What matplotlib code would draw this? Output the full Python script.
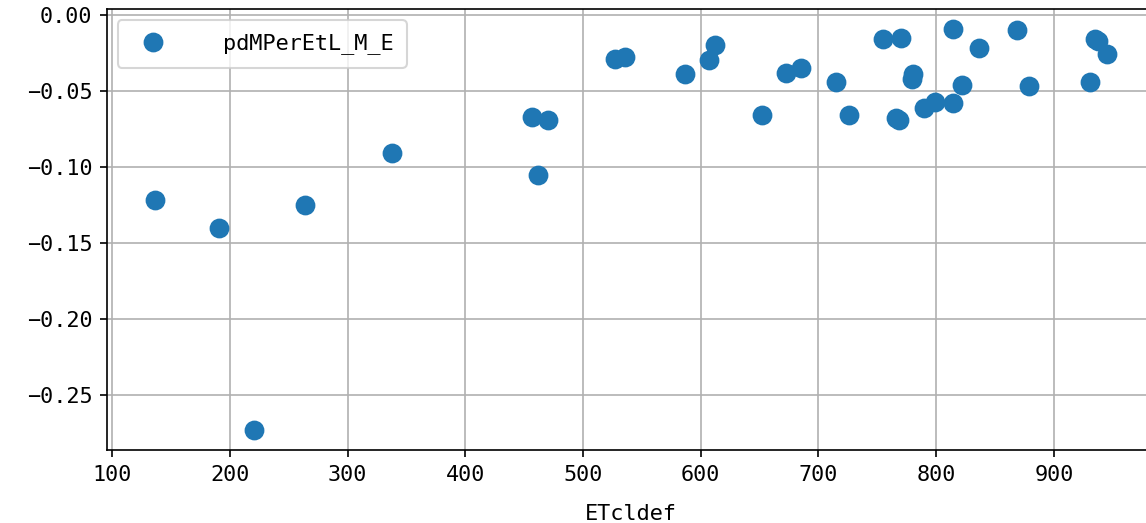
import matplotlib
matplotlib.use("Agg")
from matplotlib import pyplot as plt

# data
etcldef = [136, 190.3, 220, 263.4, 337.4, 457, 461.4, 469.8, 526.8, 536,
           586.3, 606.7, 611.8, 652, 672.7, 685, 714.6, 726.3, 755, 765.5,
           768, 769.8, 780, 779.5, 790, 799, 814.4, 814, 822, 836,
           869, 879, 930.8, 935, 937.5, 945]
pdm = [-0.122, -0.140, -0.273, -0.125, -0.091, -0.067, -0.105, -0.069, -0.029, -0.028,
       -0.039, -0.030, -0.020, -0.066, -0.038, -0.035, -0.044, -0.066, -0.0162, -0.068,
       -0.069, -0.0151, -0.039, -0.042, -0.061, -0.057, -0.0096, -0.058, -0.046, -0.022,
       -0.0098, -0.047, -0.044, -0.0158, -0.017, -0.026]
series_name = "pdMPerEtL_M_E"
x_name = "ETcldef"

plt.rcParams['font.family'] = ['DejaVu Sans Mono']
plt.rcParams['font.size'] = 10.5

fig = plt.figure(figsize=(1146 / 150, 523 / 150), dpi=150)
ax = fig.add_axes([0.0934, 0.139, 0.914, 0.843])

ax.plot(etcldef, pdm, 'o', color='#1f77b4', markersize=8.5, label=series_name)
ax.set_xlabel(x_name, labelpad=9)
ax.grid(True)
ax.legend(loc='upper left', handletextpad=2.2, borderpad=0.6)
ax.set_xticks([100, 200, 300, 400, 500, 600, 700, 800, 900])

fig.savefig("out.png", dpi=150)
